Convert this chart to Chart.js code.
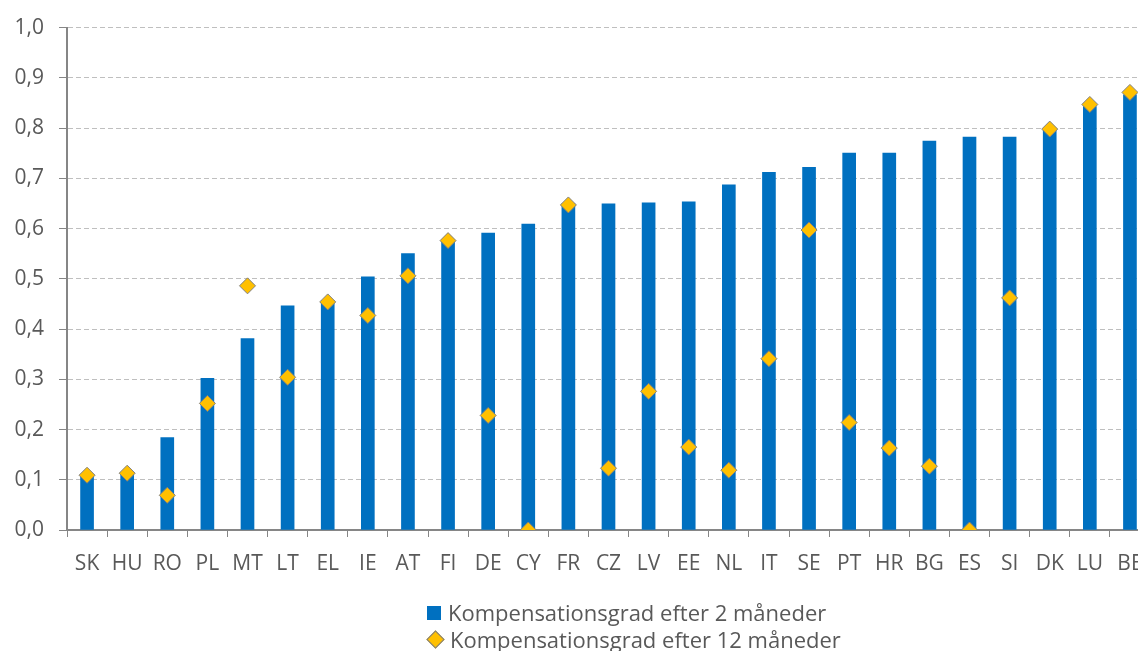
<!DOCTYPE html>
<html>
<head>
<meta charset="utf-8">
<script src="https://cdn.jsdelivr.net/npm/chart.js@4"></script>
<style>
    html, body { margin: 0; padding: 0; background: #fff; overflow: hidden; }
    #wrap { position: relative; width: 1160px; height: 651px; }
    #legend { position: absolute; left: 426px; top: 599px; font-family: "Open Sans", sans-serif; font-size: 22px; color: #595959; line-height: 27px; }
    .item { display: flex; align-items: center; white-space: nowrap; }
    .sq { width: 14px; height: 14px; background: #0070C0; margin-right: 7px; margin-left: 1px; }
    .dia { width: 11px; height: 11px; background: #FFC000; border: 1px solid #7F7F7F; transform: rotate(45deg); margin: 0 8px 0 3px; }
</style>
</head>
<body>
<div id="wrap">
    <canvas id="chart" width="1160" height="651"></canvas>
    <div id="legend">
        <div class="item"><span class="sq"></span>Kompensationsgrad efter 2 måneder</div>
        <div class="item"><span class="dia"></span>Kompensationsgrad efter 12 måneder</div>
    </div>
</div>
<script>
// Données
const labels = ['SK', 'HU', 'RO', 'PL', 'MT', 'LT', 'EL', 'IE', 'AT', 'FI', 'DE', 'CY', 'FR', 'CZ',
    'LV', 'EE', 'NL', 'IT', 'SE', 'PT', 'HR', 'BG', 'ES', 'SI', 'DK', 'LU', 'BE'];
const efter2 = [0.108, 0.115, 0.184, 0.302, 0.381, 0.446, 0.456, 0.504, 0.550, 0.575, 0.591, 0.609, 0.649, 0.649,
    0.651, 0.653, 0.687, 0.712, 0.722, 0.750, 0.750, 0.774, 0.782, 0.782, 0.797, 0.843, 0.866];
const efter12 = [0.109, 0.113, 0.069, 0.252, 0.486, 0.304, 0.454, 0.427, 0.506, 0.576, 0.228, 0.0, 0.647, 0.123,
    0.276, 0.165, 0.119, 0.341, 0.597, 0.214, 0.163, 0.127, 0.0, 0.462, 0.798, 0.847, 0.871];
const yTicks = [0, 0.1, 0.2, 0.3, 0.4, 0.5, 0.6, 0.7, 0.8, 0.9, 1.0];

const textColor = '#595959';
const font = { family: '"Open Sans", sans-serif', size: 21 };

const ctx = document.getElementById('chart').getContext('2d');
new Chart(ctx, {
    type: 'bar',
    data: {
        labels: labels,
        datasets: [
            {
                type: 'line',
                label: 'Kompensationsgrad efter 12 måneder',
                data: efter12,
                showLine: false,
                pointStyle: 'rectRot',
                pointRadius: 8,
                pointBackgroundColor: '#FFC000',
                pointBorderColor: '#7F7F7F',
                pointBorderWidth: 1,
                order: 0
            },
            {
                label: 'Kompensationsgrad efter 2 måneder',
                data: efter2,
                backgroundColor: '#0070C0',
                barThickness: 13,
                order: 1
            }
        ]
    },
    options: {
        responsive: false,
        animation: false,
        layout: { padding: { top: 26, right: 10, bottom: 71, left: 0 } },
        plugins: { legend: { display: false }, tooltip: { enabled: false } },
        scales: {
            x: {
                grid: { offset: true, drawOnChartArea: false, tickLength: 7, tickColor: '#868686' },
                border: { color: '#868686', width: 2 },
                ticks: { color: textColor, font: font, padding: 14, autoSkip: false, maxRotation: 0 },
                afterFit: (scale) => { scale.height = 50; }
            },
            y: {
                min: 0,
                max: 1,
                afterBuildTicks: (scale) => { scale.ticks = yTicks.map(v => ({ value: v })); },
                grid: { color: '#BFBFBF', tickColor: '#868686', tickLength: 8, lineWidth: 1 },
                border: { color: '#868686', width: 2, dash: [5, 3] },
                ticks: {
                    color: textColor, font: font, padding: 15,
                    callback: (v) => v.toFixed(1).replace('.', ',')
                },
                afterFit: (scale) => { scale.width = 67; }
            }
        }
    }
});
</script>
</body>
</html>
